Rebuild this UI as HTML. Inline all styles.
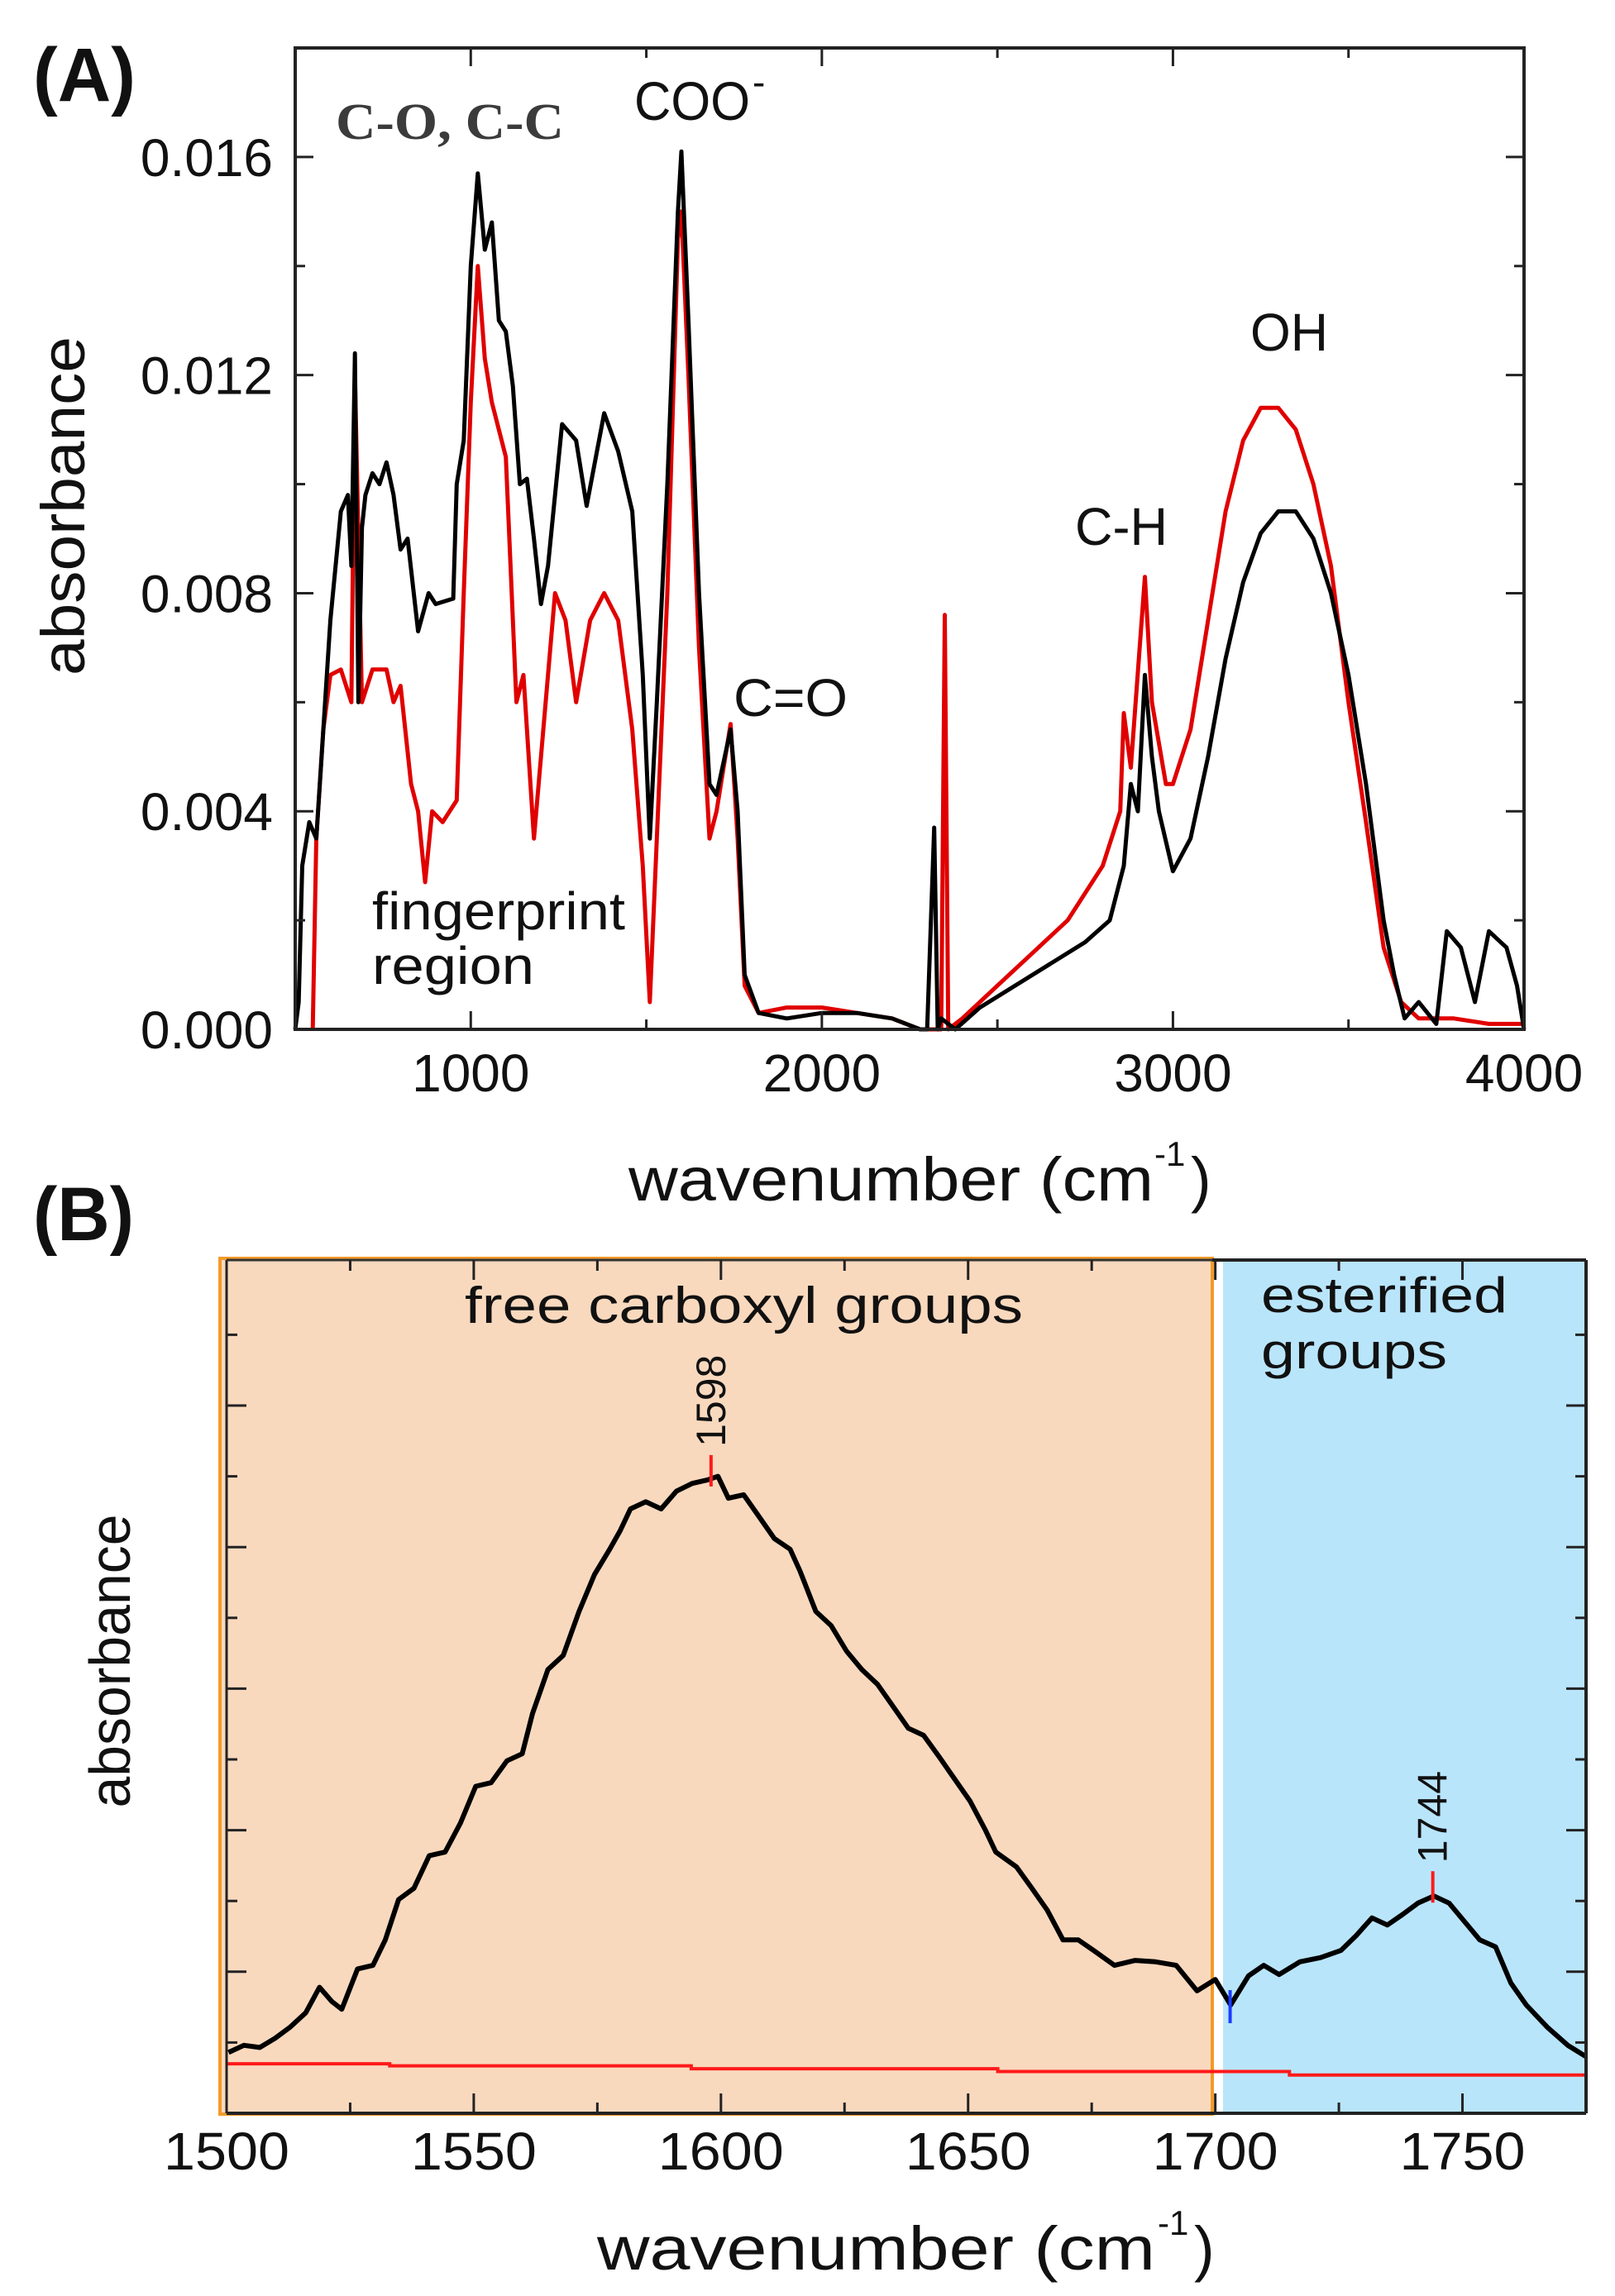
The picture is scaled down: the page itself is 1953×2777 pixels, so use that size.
<!DOCTYPE html>
<html><head><meta charset="utf-8"><style>
html,body{margin:0;padding:0;background:#fff;}
svg{display:block;}
text{font-family:"Liberation Sans",sans-serif;fill:#111;}
</style></head><body>
<svg id="fig" width="1953" height="2777" viewBox="0 0 1953 2777" xmlns="http://www.w3.org/2000/svg">
<text x="40" y="122" font-size="92" font-weight="bold" textLength="124" lengthAdjust="spacingAndGlyphs">(A)</text>
<text x="40" y="1500" font-size="92" font-weight="bold" textLength="122" lengthAdjust="spacingAndGlyphs">(B)</text>
<g id="panelB">
 <rect x="266" y="1522" width="1200" height="1035" fill="#F9D9BE" stroke="#F39A2A" stroke-width="4"/>
 <rect x="1479" y="1524" width="439" height="1032" fill="#B9E5FB"/>
</g>
<g id="panelA"></g>
<g id="panelBplot"></g>
</svg>
<script>
// ---------- Panel A data ----------
const aBlackWn = [500,510,520,540,560,580,600,630,650,660,670,680,690,700,720,740,760,780,800,820,850,880,900,950,960,980,1000,1020,1040,1060,1080,1100,1120,1140,1160,1180,1200,1220,1260,1300,1330,1380,1420,1460,1490,1510,1530,1560,1590,1600,1620,1650,1680,1700,1740,1760,1780,1820,1900,2000,2100,2200,2280,2300,2320,2330,2340,2380,2450,2550,2650,2750,2820,2860,2880,2900,2920,2940,2960,3000,3050,3100,3150,3200,3250,3300,3350,3400,3450,3500,3550,3600,3630,3660,3700,3750,3780,3820,3860,3900,3950,3980,4000];
const aBlackAbs = [0.0000,0.0005,0.0030,0.0038,0.0035,0.0055,0.0075,0.0095,0.0098,0.0085,0.0124,0.0060,0.0092,0.0098,0.0102,0.0100,0.0104,0.0098,0.0088,0.0090,0.0073,0.0080,0.0078,0.0079,0.0100,0.0108,0.0140,0.0157,0.0143,0.0148,0.0130,0.0128,0.0118,0.0100,0.0101,0.0090,0.0078,0.0085,0.0111,0.0108,0.0096,0.0113,0.0106,0.0095,0.0065,0.0035,0.0060,0.0100,0.0150,0.0161,0.0130,0.0080,0.0045,0.0043,0.0055,0.0040,0.0010,0.0003,0.0002,0.0003,0.0003,0.0002,0.0000,0.0000,0.0037,0.0000,0.0002,0.0000,0.0004,0.0008,0.0012,0.0016,0.0020,0.0030,0.0045,0.0040,0.0065,0.0050,0.0040,0.0029,0.0035,0.0050,0.0068,0.0082,0.0091,0.0095,0.0095,0.0090,0.0080,0.0065,0.0045,0.0020,0.0010,0.0002,0.0005,0.0001,0.0018,0.0015,0.0005,0.0018,0.0015,0.0008,0.0000];
const aRedWn = [550,560,580,600,630,660,670,690,720,760,780,800,830,850,870,890,920,960,980,1000,1020,1040,1060,1100,1130,1150,1180,1200,1240,1270,1300,1340,1380,1420,1460,1490,1510,1530,1560,1590,1600,1620,1650,1680,1700,1740,1760,1780,1820,1900,2000,2100,2200,2280,2340,2350,2360,2400,2500,2600,2700,2800,2850,2860,2880,2920,2940,2980,3000,3050,3100,3150,3200,3250,3300,3350,3400,3450,3500,3550,3600,3650,3700,3800,3900,4000];
const aRedAbs = [0.0000,0.0035,0.0055,0.0065,0.0066,0.0060,0.0120,0.0060,0.0066,0.0066,0.0060,0.0063,0.0045,0.0040,0.0027,0.0040,0.0038,0.0042,0.0080,0.0115,0.0140,0.0123,0.0115,0.0105,0.0060,0.0065,0.0035,0.0050,0.0080,0.0075,0.0060,0.0075,0.0080,0.0075,0.0055,0.0030,0.0005,0.0035,0.0080,0.0145,0.0150,0.0120,0.0070,0.0035,0.0040,0.0056,0.0035,0.0008,0.0003,0.0004,0.0004,0.0003,0.0002,0.0000,0.0000,0.0076,0.0000,0.0002,0.0008,0.0014,0.0020,0.0030,0.0040,0.0058,0.0048,0.0083,0.0060,0.0045,0.0045,0.0055,0.0075,0.0095,0.0108,0.0114,0.0114,0.0110,0.0100,0.0085,0.0060,0.0038,0.0015,0.0005,0.0002,0.0002,0.0001,0.0001];
const aXTicks = [1000,2000,3000,4000];
const aXTickLabels = ["1000","2000","3000","4000"];
const aYTicks = [0,0.004,0.008,0.012,0.016];
const aYTickLabels = ["0.000","0.004","0.008","0.012","0.016"];

// ---------- Panel B data ----------
const bWn = [1500.4,1503.5,1506.7,1509.8,1512.9,1516,1518.8,1521.3,1523.3,1526.5,1529.6,1532.1,1534.8,1537.9,1541,1544.2,1547.3,1550.4,1553.5,1556.7,1559.8,1561.9,1565,1568.1,1571.3,1574.4,1577.5,1579.6,1581.7,1584.8,1587.9,1591,1594.2,1597.3,1599.4,1601.5,1604.6,1607.7,1610.8,1614,1616,1619.2,1622.3,1625.4,1628.5,1631.7,1634.8,1637.9,1641,1644.2,1647.3,1650.4,1653.5,1655.6,1659.8,1662.9,1666,1669.2,1672.3,1675.4,1679.6,1683.8,1687.9,1692.1,1696.3,1700,1703.1,1706.7,1709.8,1712.9,1717.1,1721.3,1725.4,1728.5,1731.7,1734.8,1737.9,1741,1744.2,1747.3,1750.4,1753.5,1756.7,1759.8,1762.9,1767.1,1771.3,1775];
const bAbs = [0.86,0.96,0.93,1.06,1.22,1.42,1.78,1.58,1.47,2.04,2.09,2.45,3.02,3.18,3.64,3.69,4.10,4.62,4.67,4.98,5.08,5.65,6.27,6.47,7.09,7.61,7.97,8.23,8.54,8.64,8.54,8.79,8.90,8.95,9.00,8.69,8.74,8.43,8.12,7.97,7.66,7.09,6.89,6.53,6.27,6.06,5.75,5.44,5.34,5.03,4.72,4.41,4.00,3.69,3.48,3.18,2.87,2.45,2.45,2.30,2.09,2.16,2.14,2.09,1.73,1.89,1.53,1.94,2.09,1.96,2.14,2.20,2.30,2.51,2.76,2.66,2.81,2.97,3.07,2.97,2.71,2.45,2.35,1.84,1.53,1.22,0.96,0.80];
const bBaseWn = [1500,1533,1533,1594,1594,1656,1656,1715,1715,1775];
const bBaseAbs = [0.70,0.70,0.67,0.67,0.63,0.63,0.59,0.59,0.54,0.54];
const bXTicks = [1500,1550,1600,1650,1700,1750];
const bXTickLabels = ["1500","1550","1600","1650","1700","1750"];
const bPeaks = [1598,1744];
const bPeakLabels = ["1598","1744"];
const bValley = [1703];

const NS="http://www.w3.org/2000/svg";
function mk(parent,tag,attrs,txt){const e=document.createElementNS(NS,tag);for(const k in attrs)e.setAttribute(k,attrs[k]);if(txt!==undefined)e.textContent=txt;parent.appendChild(e);return e;}

// ----- Panel A -----
const AL=357,AR=1843,AT=58,AB=1245;
const xA=w=>AL+(w-500)*(AR-AL)/3500;
const yA=a=>AB-a*(AB-AT)/0.018;
const gA=document.getElementById('panelA');
function pathFrom(xs,ys,fx,fy){let d='';for(let i=0;i<xs.length;i++){d+=(i?'L':'M')+fx(xs[i]).toFixed(1)+','+fy(ys[i]).toFixed(1);}return d;}
let p=mk(gA,'path',{d:pathFrom(aRedWn,aRedAbs,xA,yA),fill:'none',stroke:'#e00000','stroke-width':5,'stroke-linejoin':'round'});


p=mk(gA,'path',{d:pathFrom(aBlackWn,aBlackAbs,xA,yA),fill:'none',stroke:'#000','stroke-width':5,'stroke-linejoin':'round'});


p=mk(gA,'rect',{x:AL,y:AT,width:AR-AL,height:AB-AT,fill:'none',stroke:'#222','stroke-width':4});


for(let w=1000;w<4000;w+=500){const maj=(w%1000===0);const L=maj?22:12;
 mk(gA,'line',{x1:xA(w),x2:xA(w),y1:AB,y2:AB-L,stroke:'#222','stroke-width':3});
 mk(gA,'line',{x1:xA(w),x2:xA(w),y1:AT,y2:AT+L,stroke:'#222','stroke-width':3});}
for(let k=1;k<9;k++){const a=k*0.002;const maj=(k%2===0);const L=maj?22:12;
 mk(gA,'line',{x1:AL,x2:AL+L,y1:yA(a),y2:yA(a),stroke:'#222','stroke-width':3});
 mk(gA,'line',{x1:AR,x2:AR-L,y1:yA(a),y2:yA(a),stroke:'#222','stroke-width':3});}
aXTicks.forEach((w,i)=>{const t=mk(gA,'text',{x:xA(w),y:1320,'font-size':64,'text-anchor':'middle'},aXTickLabels[i]);
 
 });
aYTicks.forEach((a,i)=>{const t=mk(gA,'text',{x:330,y:yA(a)+23,'font-size':64,'text-anchor':'end'},aYTickLabels[i]);
 
 });
let t=mk(gA,'text',{x:760,y:1452,'font-size':74,textLength:635,lengthAdjust:'spacingAndGlyphs'},'wavenumber (cm');


mk(gA,'text',{x:1396,y:1410,'font-size':42},'-1');
mk(gA,'text',{x:1440,y:1452,'font-size':74},')');
t=mk(gA,'text',{x:0,y:0,'font-size':74,'text-anchor':'middle',transform:'translate(102,612) rotate(-90)',textLength:410,lengthAdjust:'spacingAndGlyphs'},'absorbance');


const annA=[["C-O, C-C",406,168,62,276,"serif"],["COO",767,145,66,140,"sans"],["C=O",887,866,64,138,"sans"],["C-H",1300,659,64,112,"sans"],["OH",1512,424,64,94,"sans"],["fingerprint",450,1124,64,306,"sans"],["region",450,1190,64,196,"sans"]];
annA.forEach(r=>{const e=mk(gA,'text',{x:r[1],y:r[2],'font-size':r[3],textLength:r[4],lengthAdjust:'spacingAndGlyphs'},r[0]);
 if(r[5]==='serif'){e.setAttribute('style','font-family:"Liberation Serif",serif;font-weight:bold;fill:#3b3b3b');}
 
 });
mk(gA,'text',{x:910,y:115,'font-size':46},'-');

// ----- Panel B -----
const BL=274,BR=1918,BT=1524,BB=2556;
const xB=w=>BL+(w-1500)*(BR-BL)/275;
const yB=v=>BB-v*85.6;
const gB=document.getElementById('panelBplot');
p=mk(gB,'path',{d:pathFrom(bBaseWn,bBaseAbs,xB,yB),fill:'none',stroke:'#ff1a1a','stroke-width':4});


p=mk(gB,'path',{d:pathFrom(bWn,bAbs,xB,yB),fill:'none',stroke:'#000','stroke-width':6,'stroke-linejoin':'round'});


mk(gB,'line',{x1:BL,x2:BR,y1:BB,y2:BB,stroke:'#222','stroke-width':4});
mk(gB,'line',{x1:BL,x2:BL,y1:BT,y2:BB,stroke:'#222','stroke-width':3});
mk(gB,'line',{x1:1466,x2:BR,y1:BT,y2:BT,stroke:'#222','stroke-width':4});
mk(gB,'line',{x1:BR,x2:BR,y1:BT,y2:BB,stroke:'#222','stroke-width':4});
mk(gB,'line',{x1:BL,x2:1466,y1:BT,y2:BT,stroke:'#333','stroke-width':3});
for(let w=1525;w<1775;w+=25){const maj=(w%50===0);const L=maj?24:13;
 mk(gB,'line',{x1:xB(w),x2:xB(w),y1:BB,y2:BB-L,stroke:'#222','stroke-width':3});
 mk(gB,'line',{x1:xB(w),x2:xB(w),y1:BT,y2:BT+L,stroke:'#222','stroke-width':3});}
for(let k=1;k<12;k++){const maj=(k%2===0);const L=maj?24:13;
 mk(gB,'line',{x1:BL,x2:BL+L,y1:yB(k),y2:yB(k),stroke:'#222','stroke-width':3});
 mk(gB,'line',{x1:BR,x2:BR-L,y1:yB(k),y2:yB(k),stroke:'#222','stroke-width':3});}
bXTicks.forEach((w,i)=>{const e=mk(gB,'text',{x:xB(w),y:2624,'font-size':64,'text-anchor':'middle',textLength:152,lengthAdjust:'spacingAndGlyphs'},bXTickLabels[i]);
 
 });
bPeaks.forEach((w,i)=>{const j=bWn.reduce((b,v,k)=>Math.abs(v-w)<Math.abs(bWn[b]-w)?k:b,0);const yy=yB(bAbs[j]);
 const m=mk(gB,'line',{x1:xB(w),x2:xB(w),y1:yy-30,y2:yy+8,stroke:'#ff1a1a','stroke-width':4});
 
 
 const e=mk(gB,'text',{x:0,y:0,'font-size':50,'text-anchor':'start',transform:'translate('+(xB(w)+17)+','+(yy-40)+') rotate(-90)'},bPeakLabels[i]);
 
 });
bValley.forEach(w=>{const j=bWn.reduce((b,v,k)=>Math.abs(v-w)<Math.abs(bWn[b]-w)?k:b,0);const yy=yB(bAbs[j]);
 const m=mk(gB,'line',{x1:xB(w),x2:xB(w),y1:yy-18,y2:yy+22,stroke:'#1a3cff','stroke-width':4});
 
 });
t=mk(gB,'text',{x:562,y:1600,'font-size':62,textLength:675,lengthAdjust:'spacingAndGlyphs'},'free carboxyl groups');


t=mk(gB,'text',{x:1525,y:1587,'font-size':60,textLength:298,lengthAdjust:'spacingAndGlyphs'},'esterified');


t=mk(gB,'text',{x:1525,y:1655,'font-size':60,textLength:225,lengthAdjust:'spacingAndGlyphs'},'groups');


t=mk(gB,'text',{x:722,y:2745,'font-size':74,textLength:675,lengthAdjust:'spacingAndGlyphs'},'wavenumber (cm');


mk(gB,'text',{x:1400,y:2703,'font-size':42},'-1');
mk(gB,'text',{x:1444,y:2745,'font-size':74},')');
t=mk(gB,'text',{x:0,y:0,'font-size':70,'text-anchor':'middle',transform:'translate(157,2009) rotate(-90)',textLength:355,lengthAdjust:'spacingAndGlyphs'},'absorbance');


</script>
</body></html>
